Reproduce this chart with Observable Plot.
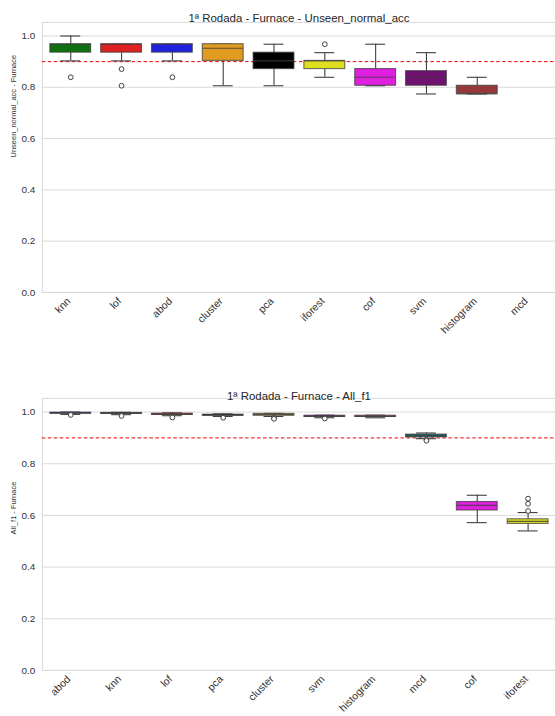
<!DOCTYPE html>
<html><head><meta charset="utf-8">
<script src="https://cdn.jsdelivr.net/npm/d3@7"></script>
<script src="https://cdn.jsdelivr.net/npm/@observablehq/plot@0.6"></script>
<style>
html,body{margin:0;padding:0;background:#fff;overflow:hidden;width:555px;height:716px}
#c svg{display:block}
</style></head><body><div id="c"></div>
<script>
// ---- Colors per method (seaborn desaturated palette) ----
const paletteMethods = ["knn","lof","abod","cluster","pca","iforest","cof","svm","histogram","mcd"];
const paletteColors  = ["#107010","#df2020","#2020df","#df9c20","#000000","#dfdf20","#df20df","#701070","#963939","#107070"];

// ---- Chart 1: Unseen_normal_acc ----
const title1 = "1ª Rodada - Furnace - Unseen_normal_acc";
const ylabel1 = "Unseen_normal_acc - Furnace";
const methods1 = ["knn","lof","abod","cluster","pca","iforest","cof","svm","histogram","mcd"];
const wlo1 = [0.903, 0.903, 0.903, 0.806, 0.806, 0.839, 0.806, 0.774, 0.774, null];
const q1_1 = [0.935, 0.935, 0.935, 0.903, 0.871, 0.871, 0.806, 0.806, 0.774, null];
const med1 = [0.968, 0.968, 0.968, 0.952, 0.903, 0.903, 0.839, 0.839, 0.774, null];
const q3_1 = [0.968, 0.968, 0.968, 0.968, 0.935, 0.903, 0.871, 0.863, 0.806, null];
const whi1 = [1.000, 0.968, 0.968, 0.968, 0.968, 0.935, 0.968, 0.935, 0.839, null];
const out1 = [[0.839], [0.871, 0.806], [0.839], [], [], [0.968], [], [], [], []];

// ---- Chart 2: All_f1 ----
const title2 = "1ª Rodada - Furnace - All_f1";
const ylabel2 = "All_f1 - Furnace";
const methods2 = ["abod","knn","lof","pca","cluster","svm","histogram","mcd","cof","iforest"];
const wlo2 = [0.991, 0.990, 0.986, 0.983, 0.983, 0.978, 0.978, 0.897, 0.572, 0.540];
const q1_2 = [0.994, 0.993, 0.989, 0.986, 0.986, 0.981, 0.981, 0.902, 0.619, 0.567];
const med2 = [0.996, 0.995, 0.991, 0.988, 0.990, 0.983, 0.983, 0.909, 0.639, 0.577];
const q3_2 = [0.998, 0.997, 0.994, 0.990, 0.993, 0.986, 0.986, 0.913, 0.652, 0.585];
const whi2 = [1.000, 0.999, 0.997, 0.993, 0.995, 0.988, 0.988, 0.919, 0.678, 0.611];
const out2 = [[0.989], [0.985], [0.979], [0.978], [0.977, 0.974], [0.975], [], [0.893, 0.889], [], [0.617, 0.645, 0.665]];

const yTicks = [0, 0.2, 0.4, 0.6, 0.8, 1.0];
const threshold = [0.9];

const colorOf = m => paletteColors[paletteMethods.indexOf(m)];
const lineColor = "#3f3f3f";
const gridColor = "#dadada";

function makeChart({title, ylabel, methods, wlo, q1, med, q3, whi, out, height, marginTop, marginBottom, titleDy}) {
  const rows = methods.map((m, i) => ({m, wlo: wlo[i], q1: q1[i], med: med[i], q3: q3[i], whi: whi[i]}))
    .filter(d => d.med != null);
  const outRows = methods.flatMap((m, i) => out[i].map(v => ({m, v})));
  return Plot.plot({
    width: 557, height, marginLeft: 42, marginRight: 0, marginTop, marginBottom,
    style: {fontFamily: "'Liberation Sans', Arial, sans-serif", fontSize: "10px", color: "#333", background: "#fff"},
    x: {domain: methods, padding: 0, label: null},
    y: {domain: [0, 1.053], label: null},
    color: {type: "identity"},
    marks: [
      Plot.gridY(yTicks, {stroke: gridColor, strokeOpacity: 1}),
      Plot.frame({stroke: gridColor}),
      Plot.ruleY(threshold, {stroke: "#ee0000", strokeDasharray: "3.5,2.5", strokeWidth: 1}),
      Plot.ruleX(rows, {x: "m", y1: "wlo", y2: "q1", stroke: lineColor, strokeWidth: 1.1}),
      Plot.ruleX(rows, {x: "m", y1: "q3", y2: "whi", stroke: lineColor, strokeWidth: 1.1}),
      Plot.tickY(rows, {x: "m", y: "wlo", stroke: lineColor, strokeWidth: 1.1, insetLeft: 15.5, insetRight: 15.5}),
      Plot.tickY(rows, {x: "m", y: "whi", stroke: lineColor, strokeWidth: 1.1, insetLeft: 15.5, insetRight: 15.5}),
      Plot.barY(rows, {x: "m", y1: "q1", y2: "q3", fill: d => colorOf(d.m), stroke: lineColor, strokeOpacity: 0.75, strokeWidth: 1.1, insetLeft: 5, insetRight: 5}),
      Plot.tickY(rows, {x: "m", y: "med", stroke: lineColor, strokeOpacity: 0.8, strokeWidth: 1.1, insetLeft: 5, insetRight: 5}),
      Plot.dot(outRows, {x: "m", y: "v", r: 2.4, fill: "white", stroke: lineColor, strokeWidth: 1}),
      Plot.axisY(yTicks, {tickSize: 0, tickPadding: 7, tickFormat: d3.format(".1f"), label: null, fontSize: 10}),
      Plot.axisX({tickSize: 0, tickPadding: 7, dx: -2, tickRotate: -45, label: null, fontSize: 10.5}),
      Plot.text([title], {text: d => d, frameAnchor: "top", dy: titleDy, fontSize: 11.5, fill: "#262626"}),
      Plot.text([ylabel], {text: d => d, frameAnchor: "left", dx: -29, rotate: -90, fontSize: 7.5, fill: "#333"})
    ]
  });
}

const c = document.getElementById("c");
c.append(makeChart({title: title1, ylabel: ylabel1, methods: methods1, wlo: wlo1, q1: q1_1, med: med1, q3: q3_1, whi: whi1, out: out1,
  height: 370, marginTop: 22, marginBottom: 77, titleDy: -9}));
c.append(makeChart({title: title2, ylabel: ylabel2, methods: methods2, wlo: wlo2, q1: q1_2, med: med2, q3: q3_2, whi: whi2, out: out2,
  height: 346, marginTop: 29, marginBottom: 44, titleDy: -7}));
</script>
</body></html>
